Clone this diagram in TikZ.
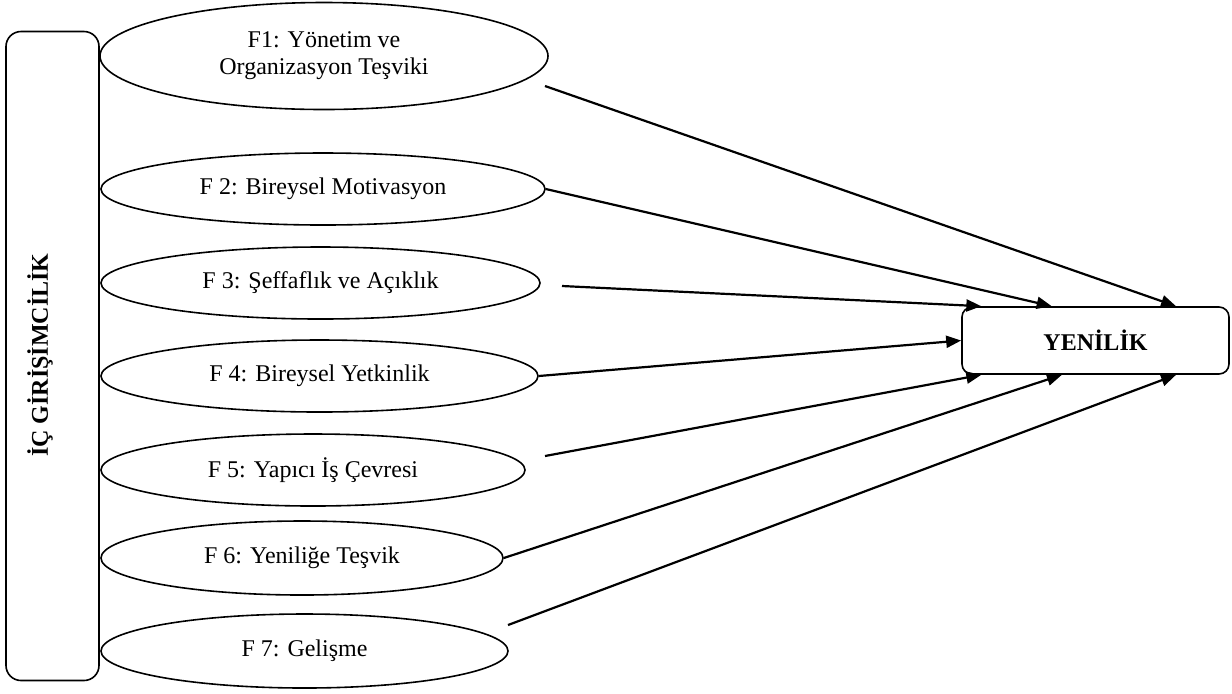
\documentclass[tikz,border=0pt]{standalone}
\usepackage{fontspec}
\setmainfont{Liberation Serif}
\usetikzlibrary{shapes.geometric,arrows.meta,calc}
\begin{document}
\begin{tikzpicture}[x=0.5pt,y=-0.5pt,
  fact/.style={draw, ellipse, line width=0.8pt, inner sep=0pt,
    font=\fontsize{12}{13.5}\selectfont, align=center},
  conn/.style={line width=1.1pt, -{Triangle[length=7.5pt,width=6pt]}},
  sidebox/.style={draw, rounded corners=7.5pt, line width=0.8pt,
    minimum width=46.5pt, minimum height=324.5pt, inner sep=0pt},
  outbox/.style={draw, rounded corners=5pt, line width=0.8pt,
    minimum width=133.5pt, minimum height=33.5pt, inner sep=0pt},
  bold12/.style={font=\fontsize{12}{14}\bfseries\selectfont}]
\useasboundingbox (0,0) rectangle (1232,693);

% left box
\node[sidebox] (ic) at (52.5,356) {};
\node[bold12, rotate=90] (ictext) at (40,355) {İÇ GİRİŞİMCİLİK};

% ellipses
\node[fact, minimum width=224pt, minimum height=53.5pt] (f1) at (324,56) {F1: Yönetim ve\\Organizasyon Teşviki};
\node[fact, minimum width=222pt, minimum height=36pt] (f2) at (323,189) {F 2: Bireysel Motivasyon};
\node[fact, minimum width=219.5pt, minimum height=36pt] (f3) at (320.5,283) {F 3: Şeffaflık ve Açıklık};
\node[fact, minimum width=218.5pt, minimum height=36pt] (f4) at (319.5,376) {F 4: Bireysel Yetkinlik};
\node[fact, minimum width=212pt, minimum height=36pt] (f5) at (313,470) {F 5: Yapıcı İş Çevresi};
\node[fact, minimum width=201pt, minimum height=37pt] (f6) at (302,558) {F 6: Yeniliğe Teşvik};
\node[fact, minimum width=203.5pt, minimum height=37pt] (f7) at (304.5,651) {F 7: Gelişme};

% output box
\node[outbox, bold12] (yen) at (1095.5,340.5) {YENİLİK};

% free starting points of the connectors
\coordinate (s1) at (545,86);
\coordinate (s3) at (562,286);
\coordinate (s5) at (545,456);
\coordinate (s7) at (508,625);

% connectors
\draw[conn] (s1) -- ($(yen.north west)!0.80!(yen.north east)$);
\draw[conn] (f2.east) -- ($(yen.north west)!0.337!(yen.north east)$);
\draw[conn] (s3) -- ($(yen.north west)!0.075!(yen.north east)$);
\draw[conn] (f4.east) -- (yen.west);
\draw[conn] (s5) -- ($(yen.south west)!0.075!(yen.south east)$);
\draw[conn] (f6.east) -- ($(yen.south west)!0.375!(yen.south east)$);
\draw[conn] (s7) -- ($(yen.south west)!0.80!(yen.south east)$);
\end{tikzpicture}
\end{document}
